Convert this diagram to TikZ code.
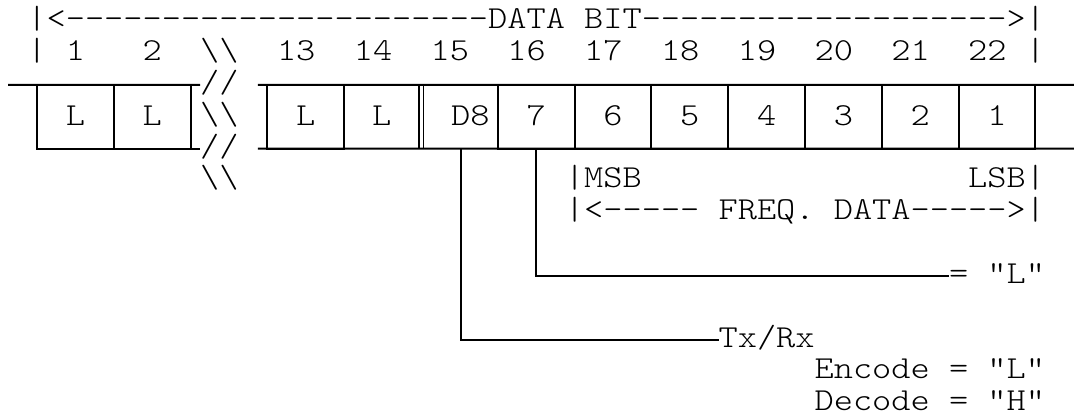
\documentclass[tikz,border=0pt]{standalone}
\usepackage{graphicx}
\newcommand\mycc[1]{(19.2*#1-1.4)}
\newcommand\mycl[1]{(19.2*#1-11)}
\newcommand\mybl[1]{(-29-31.8*#1)}
\newcommand\myln[1]{(-21-31.9*#1)}
\newcommand\cw[1]{\scalebox{1.142857}[1]{#1}}
\begin{document}
\begin{tikzpicture}[x=1pt,y=1pt,
  mono/.style={font=\fontsize{32pt}{32pt}\fontfamily{lmtt}\fontseries{l}\selectfont},
  txt/.style={mono,inner sep=0pt,outer sep=0pt,anchor=base west},
  cell/.style={mono,draw,line width=2pt,inner sep=0pt,outer sep=0pt,
    minimum width=76.8pt,minimum height=63.8pt,text height=17pt,text depth=0pt},
  thin cell/.style={cell,line width=1.5pt},
  wire/.style={draw,line width=2pt}]
\path[use as bounding box] (0,0) rectangle (1074,-417);
% row 0
\node[txt] (hdr) at ({\mycl{2}},{\mybl{0}}) {\cw{|<----------------------DATA BIT------------------->|}};
% row 1
\node[txt] (lb) at ({\mycl{2}},{\mybl{1}}) {\cw{|}};
\node[txt] (n1) at ({\mycl{4}},{\mybl{1}}) {\cw{1}};
\node[txt] (n2) at ({\mycl{8}},{\mybl{1}}) {\cw{2}};
\node[txt] (br1) at ({\mycl{11}},{\mybl{1}}) {\cw{\textbackslash\textbackslash}};
\node[txt] (n13) at ({\mycl{15}},{\mybl{1}}) {\cw{13}};
\node[txt] (n14) at ({\mycl{19}},{\mybl{1}}) {\cw{14}};
\node[txt] (n15) at ({\mycl{23}},{\mybl{1}}) {\cw{15}};
\node[txt] (n16) at ({\mycl{27}},{\mybl{1}}) {\cw{16}};
\node[txt] (n17) at ({\mycl{31}},{\mybl{1}}) {\cw{17}};
\node[txt] (n18) at ({\mycl{35}},{\mybl{1}}) {\cw{18}};
\node[txt] (n19) at ({\mycl{39}},{\mybl{1}}) {\cw{19}};
\node[txt] (n20) at ({\mycl{43}},{\mybl{1}}) {\cw{20}};
\node[txt] (n21) at ({\mycl{47}},{\mybl{1}}) {\cw{21}};
\node[txt] (n22) at ({\mycl{51}},{\mybl{1}}) {\cw{22}};
\node[txt] (rb) at ({\mycl{54}},{\mybl{1}}) {\cw{|}};
% break marks
\node[txt] (br2) at ({\mycl{11}},{\mybl{2}}) {\cw{//}};
\node[txt] (br3) at ({\mycl{11}},{\mybl{3}}) {\cw{\textbackslash\textbackslash}};
\node[txt] (br4) at ({\mycl{11}},{\mybl{4}}) {\cw{//}};
\node[txt] (br5) at ({\mycl{11}},{\mybl{5}}) {\cw{\textbackslash\textbackslash}};
% cells
\node[cell] (cL1) at ({\mycc{4}},-116.7) {\cw{L}};
\node[cell] (cL2) at ({\mycc{8}},-116.7) {\cw{L}};
\node[cell] (cL13) at ({\mycc{16}},-116.7) {\cw{L}};
\node[thin cell,minimum width=74.8pt] (cL14) at (381.6,-116.7) {\cw{L}};
\node[thin cell,minimum width=74.3pt] (cD8) at (460.65,-116.7) {\cw{\hphantom{0}D8}};
\node[cell] (c7) at ({\mycc{28}},-116.7) {\cw{7}};
\node[cell] (c6) at ({\mycc{32}},-116.7) {\cw{6}};
\node[cell] (c5) at ({\mycc{36}},-116.7) {\cw{5}};
\node[cell] (c4) at ({\mycc{40}},-116.7) {\cw{4}};
\node[cell] (c3) at ({\mycc{44}},-116.7) {\cw{3}};
\node[cell] (c2) at ({\mycc{48}},-116.7) {\cw{2}};
\node[cell] (c1) at ({\mycc{52}},-116.7) {\cw{1}};
% outer rails
\coordinate (tl) at (8.2,{\myln{2}});
\coordinate (tr) at (1080,{\myln{2}});
\coordinate (brr) at (1080,{\myln{4}});
\path[wire] (tl) -- ([xshift=9.6pt]cL2.north east);
\path[wire] ([xshift=-9.6pt]cL13.north west) -- (tr);
\path[wire] (cL1.south west) -- ([xshift=9.6pt]cL2.south east);
\path[wire] ([xshift=-9.6pt]cL13.south west) -- (brr);
% freq data
\node[txt] (msb) at ({\mycl{30}},{\mybl{5}}) {\cw{|MSB}};
\node[txt] (lsb) at ({\mycl{51}},{\mybl{5}}) {\cw{LSB|}};
\node[txt] (freq) at ({\mycl{30}},{\mybl{6}}) {\cw{|<----- FREQ. DATA----->|}};
% outputs
\node[txt] (eqL) at ({\mycl{50}},{\mybl{8}}) {\cw{= "L"}};
\node[txt] (txrx) at ({\mycl{38}},{\mybl{10}}) {\cw{Tx/Rx}};
\node[txt] (enc) at ({\mycl{43}},{\mybl{11}}) {\cw{Encode = "L"}};
\node[txt] (dec) at ({\mycl{43}},{\mybl{12}}) {\cw{Decode = "H"}};
% connectors
\path[wire] (c7.south) |- ([yshift=7.2pt]eqL.base west);
\path[wire] (cD8.south) |- ([yshift=7pt]txrx.base west);
\end{tikzpicture}
\end{document}
